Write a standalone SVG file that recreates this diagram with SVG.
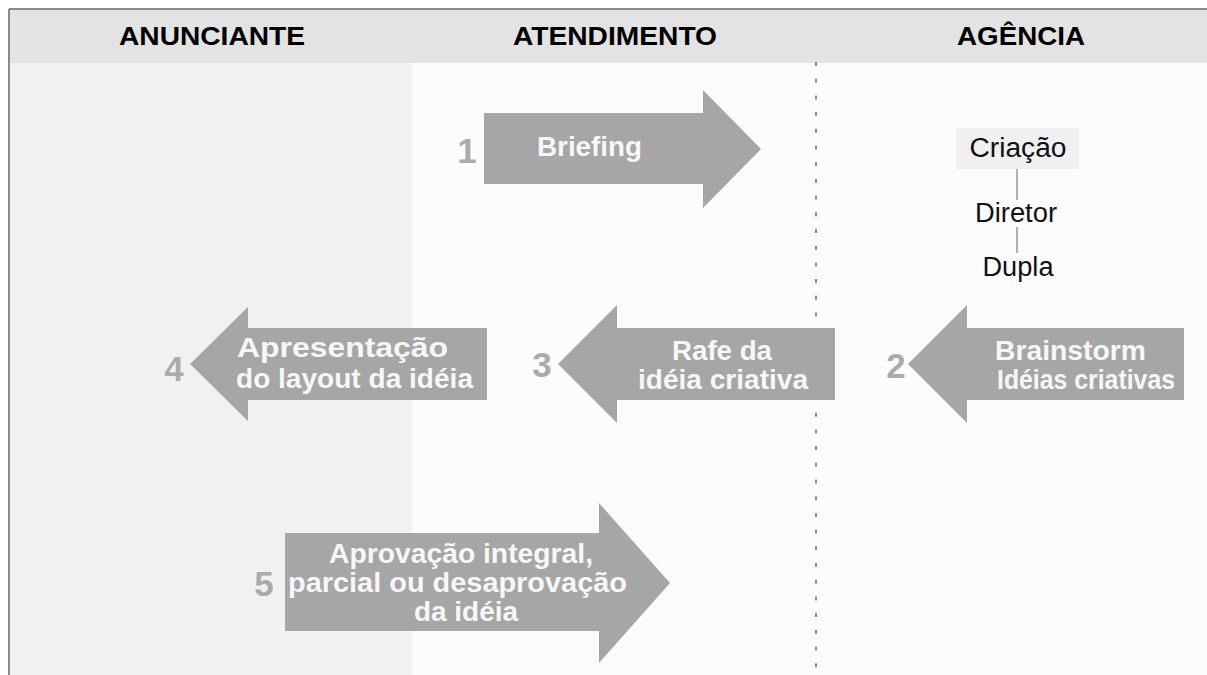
<svg xmlns="http://www.w3.org/2000/svg" width="1207" height="675" viewBox="0 0 1207 675">
<style>
.hdr{font-family:"Liberation Sans",Arial,sans-serif;font-weight:bold;font-size:26px;fill:#000;text-anchor:middle}
.arr{fill:#a6a6a6}
.at{font-family:"Liberation Sans",Arial,sans-serif;font-weight:bold;font-size:27px;fill:#f7f7f7}
.num{font-family:"Liberation Sans",Arial,sans-serif;font-weight:bold;font-size:35px;fill:#ababab;text-anchor:middle}
.org{font-family:"Liberation Sans",Arial,sans-serif;font-size:27px;fill:#111;text-anchor:middle}
.lnk{stroke:#999;stroke-width:1.5;fill:none}
</style>
<rect x="0" y="0" width="1207" height="675" fill="#fff"/>
<g id="background">
<rect x="9" y="9" width="1198" height="666" fill="#fcfcfc"/>
<rect x="9" y="63" width="403" height="612" fill="#f1f1f1"/>
<rect x="9" y="9" width="1198" height="54" fill="#e3e3e3"/>
<line x1="9" y1="9" x2="1207" y2="9" stroke="#8a8a8a" stroke-width="2"/>
<line x1="9" y1="9" x2="9" y2="675" stroke="#8a8a8a" stroke-width="2"/>
<line x1="816" y1="62" x2="816" y2="675" stroke="#8c8c8c" stroke-width="2" stroke-dasharray="4 12.7"/>
</g>
<g id="headers">
<text class="hdr" x="212" y="45" textLength="186" lengthAdjust="spacingAndGlyphs">ANUNCIANTE</text>
<text class="hdr" x="615" y="45" textLength="204" lengthAdjust="spacingAndGlyphs">ATENDIMENTO</text>
<text class="hdr" x="1021" y="45" textLength="128" lengthAdjust="spacingAndGlyphs">AGÊNCIA</text>
</g>
<g id="step1">
<polygon class="arr" points="484,113 703,113 703,90 761,149 703,208 703,184 484,184"/>
<text class="num" x="467" y="163">1</text>
<text class="at" x="537" y="156" textLength="105" lengthAdjust="spacingAndGlyphs">Briefing</text>
</g>
<g id="criacao">
<rect x="956" y="128" width="123" height="41" fill="#f0f0f0"/>
<text class="org" x="1018" y="157" textLength="97" lengthAdjust="spacingAndGlyphs">Criação</text>
</g>
<g id="diretor">
<text class="org" x="1016" y="222" textLength="82" lengthAdjust="spacingAndGlyphs">Diretor</text>
</g>
<g id="dupla">
<text class="org" x="1018" y="276" textLength="71" lengthAdjust="spacingAndGlyphs">Dupla</text>
</g>
<g id="step2">
<polygon class="arr" points="1184,328 967,328 967,305 908,364 967,423 967,400 1184,400"/>
<text class="num" x="896" y="378">2</text>
<text class="at" x="995" y="360" textLength="151" lengthAdjust="spacingAndGlyphs">Brainstorm</text>
<text class="at" x="997" y="389" textLength="178" lengthAdjust="spacingAndGlyphs">Idéias criativas</text>
</g>
<g id="step3">
<polygon class="arr" points="835,328 617,328 617,305 558,364 617,423 617,400 835,400"/>
<text class="num" x="542" y="377">3</text>
<text class="at" x="672" y="360" textLength="100" lengthAdjust="spacingAndGlyphs">Rafe da</text>
<text class="at" x="638" y="389" textLength="170" lengthAdjust="spacingAndGlyphs">idéia criativa</text>
</g>
<g id="step4">
<polygon class="arr" points="487,328 248,328 248,307 190,364 248,421 248,400 487,400"/>
<text class="num" x="174" y="381">4</text>
<text class="at" x="237" y="357" textLength="211" lengthAdjust="spacingAndGlyphs">Apresentação</text>
<text class="at" x="236" y="388" textLength="237" lengthAdjust="spacingAndGlyphs">do layout da idéia</text>
</g>
<g id="step5">
<polygon class="arr" points="285,533 599,533 599,503 670,583 599,663 599,631 285,631"/>
<text class="num" x="264" y="596">5</text>
<text class="at" x="329" y="563" textLength="264" lengthAdjust="spacingAndGlyphs">Aprovação integral,</text>
<text class="at" x="288" y="592" textLength="339" lengthAdjust="spacingAndGlyphs">parcial ou desaprovação</text>
<text class="at" x="466" y="621" text-anchor="middle" textLength="104" lengthAdjust="spacingAndGlyphs">da idéia</text>
</g>
<g id="connectors">
<line class="lnk" x1="1017" y1="169" x2="1017" y2="200"/>
<line class="lnk" x1="1017" y1="227" x2="1017" y2="253"/>
</g>
</svg>
